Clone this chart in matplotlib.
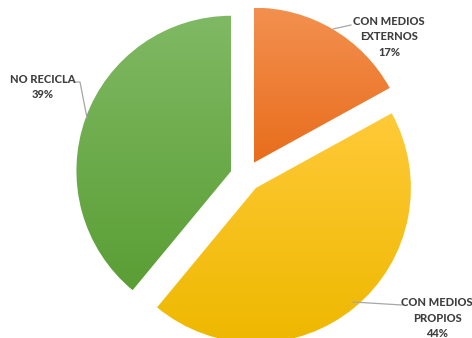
import numpy as np
import matplotlib
matplotlib.use("Agg")
import matplotlib.pyplot as plt
from matplotlib.colors import LinearSegmentedColormap

labels = ["CON MEDIOS\nEXTERNOS", "CON MEDIOS\nPROPIOS", "NO RECICLA"]
values = [17, 44, 39]
top_colors = ["#F3904F", "#FFCA38", "#80B964"]
bottom_colors = ["#E86D1C", "#EEB800", "#5A9E34"]

W, H = 472, 338
fig = plt.figure(figsize=(W / 100, H / 100), dpi=100)
ax = fig.add_axes([0, 0, 1, 1])

cx, cy, r = 246, -176, 155
wedges, _ = ax.pie(values, startangle=90, counterclock=False,
                   explode=[0.1 * r] * len(values), radius=r, center=(cx, cy),
                   colors=top_colors, wedgeprops=dict(linewidth=0))

# vertical gradient fill inside each wedge
grad = np.linspace(0, 1, 256).reshape(-1, 1)
for w, c0, c1 in zip(wedges, top_colors, bottom_colors):
    bb = w.get_path().get_extents(w.get_patch_transform())
    cmap = LinearSegmentedColormap.from_list("g", [c1, c0])
    im = ax.imshow(grad, cmap=cmap, extent=[bb.x0, bb.x1, bb.y0, bb.y1],
                   origin="lower", aspect="auto", zorder=2)
    im.set_clip_path(w)
    w.set_alpha(0)

ax.set_xlim(0, W)
ax.set_ylim(-H, 0)
ax.set_aspect("equal")
ax.axis("off")

txt = dict(ha="center", va="center", fontsize=8, fontweight=900,
           color="#3F3F3F", family=["Lato", "DejaVu Sans"], linespacing=1.45, zorder=5)
lc = dict(color="#A6A6A6", lw=0.9, zorder=4)

# labels with leader lines
ax.text(389, -37, f"{labels[0]}\n{values[0]}%", **txt)
ax.plot([351, 333], [-25, -29], **lc)

ax.text(437, -318, f"{labels[1]}\n{values[1]}%", **txt)
ax.plot([402, 353], [-305, -302], **lc)

ax.text(43, -87, f"{labels[2]}\n{values[2]}%", **txt)
ax.plot([74, 80, 87], [-82, -82, -118], **lc)

fig.savefig("out.png", dpi=100)
